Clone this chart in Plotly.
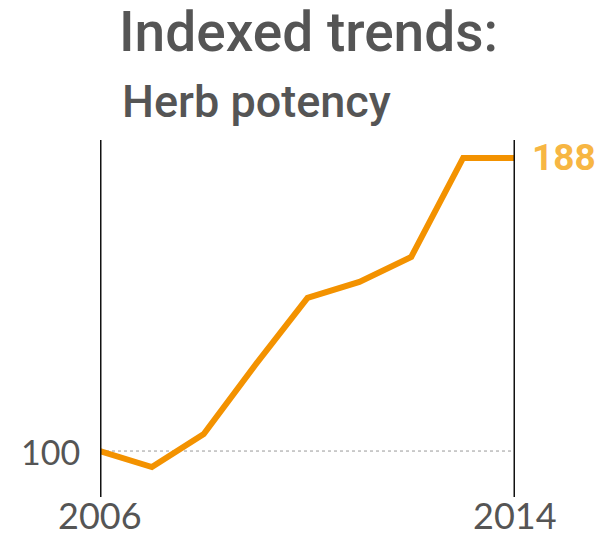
import plotly.graph_objects as go

# Herb potency, indexed to 2006 = 100
years = [2006, 2007, 2008, 2009, 2010, 2011, 2012, 2013, 2014]
potency_index = [100, 95.2, 105.1, 126, 146, 150.8, 158.3, 188, 188]

title_text = "Indexed trends:"
subtitle_text = "Herb potency"
base_label = "100"
start_label = "2006"
end_label = "2014"

ORANGE = "#F39200"
LABEL_ORANGE = "#F7B643"
GRAY = "#555555"

fig = go.Figure()

fig.add_trace(go.Scatter(
    x=years, y=potency_index, mode="lines",
    line=dict(color=ORANGE, width=6),
    hoverinfo="skip", showlegend=False,
))

# Frame lines at the first and last year
for yr in (years[0], years[-1]):
    fig.add_shape(type="line", xref="x", yref="paper",
                  x0=yr, x1=yr, y0=0, y1=1,
                  line=dict(color="#111111", width=3))

# Baseline at 100
fig.add_shape(type="line", xref="x", yref="y",
              x0=years[0], x1=years[-1], y0=100, y1=100,
              line=dict(color="#999999", width=1, dash="dot"), layer="below")

year_font = dict(family="Lato, Roboto, sans-serif", size=36, color=GRAY)

annotations = [
    dict(text=title_text, xref="paper", yref="paper", x=0.04, y=1.302,
         xanchor="left", yanchor="middle", showarrow=False,
         font=dict(family="Roboto", size=55, color=GRAY, weight=500)),
    dict(text=subtitle_text, xref="paper", yref="paper", x=0.048, y=1.108,
         xanchor="left", yanchor="middle", showarrow=False,
         font=dict(family="Roboto", size=45, color=GRAY, weight=500)),
    dict(text=base_label, xref="paper", yref="y", x=-0.043, y=100,
         xanchor="right", yanchor="middle", showarrow=False,
         font=dict(family="Lato, Roboto, sans-serif", size=34, color=GRAY)),
    dict(text=start_label, xref="x", yref="paper", x=years[0], y=-0.05,
         xanchor="center", yanchor="middle", showarrow=False, font=year_font),
    dict(text=end_label, xref="x", yref="paper", x=years[-1], y=-0.05,
         xanchor="center", yanchor="middle", showarrow=False, font=year_font),
    dict(text=f"{potency_index[-1]:g}", xref="paper", yref="y", x=1.036,
         y=potency_index[-1], xanchor="left", yanchor="middle", showarrow=False,
         font=dict(family="Roboto", size=37, color=LABEL_ORANGE, weight=700)),
]

fig.update_layout(
    width=600, height=537,
    margin=dict(l=100, r=85, t=140, b=40),
    paper_bgcolor="white", plot_bgcolor="white",
    xaxis=dict(range=[years[0], years[-1]], visible=False),
    yaxis=dict(range=[86.2, 193.4], visible=False),
    annotations=annotations,
)

fig.write_html("out.html")
